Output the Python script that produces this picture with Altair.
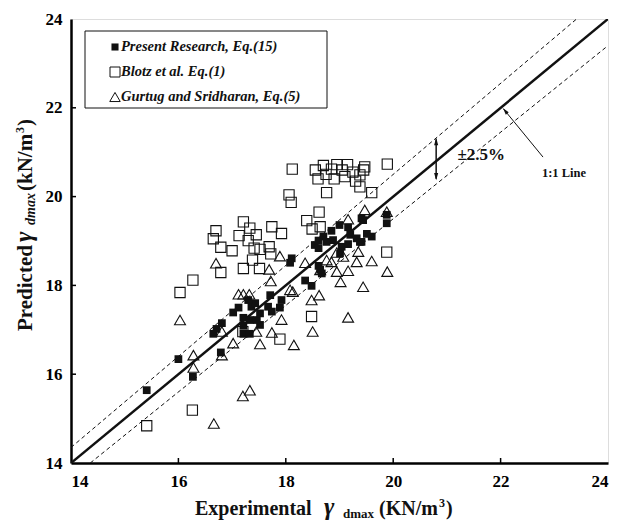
import altair as alt
import pandas as pd

# ---------------- data ----------------
present_x = [15.41, 16.0, 16.27, 16.79, 16.65, 16.71, 16.81, 17.21, 17.33, 17.21, 17.52, 17.21,
             17.33, 17.46, 17.02, 17.12, 17.52, 17.36, 17.43, 17.3, 17.67, 17.74, 17.89, 17.92,
             17.71, 18.36, 18.48, 18.61, 18.64, 18.67, 18.11, 18.08, 18.54, 18.61, 18.61, 18.7,
             18.76, 18.88, 18.85, 19.0, 19.16, 19.04, 19.16, 19.01, 19.2, 19.32, 19.38, 19.41,
             19.51, 19.6, 19.44, 19.88, 19.88, 19.41]
present_y = [15.64, 16.34, 15.94, 16.49, 16.91, 17.02, 17.15, 16.91, 16.91, 17.09, 17.11, 17.27,
             17.22, 17.22, 17.39, 17.5, 17.37, 17.52, 17.6, 17.67, 17.52, 17.41, 17.5, 17.67,
             17.78, 18.11, 17.99, 18.44, 18.35, 18.27, 18.61, 18.51, 18.91, 18.84, 19.01, 19.1,
             18.98, 19.02, 19.23, 19.36, 19.31, 18.87, 18.93, 18.72, 19.14, 19.06, 18.98, 19.51,
             19.16, 19.1, 19.47, 19.59, 19.4, 18.98]

blotz_x = [15.41, 16.26, 16.03, 16.27, 16.79, 17.21, 17.51, 17.38, 17.72, 16.79, 17.0, 17.41,
           17.52, 17.69, 16.65, 17.3, 17.13, 17.45, 16.7, 17.33, 17.21, 17.74, 17.92, 18.39,
           18.49, 18.64, 18.62, 18.06, 18.1, 18.76, 19.6, 18.48, 17.89, 17.2, 19.88, 19.47,
           19.89, 19.38, 19.38, 18.12, 18.55, 18.6, 18.7, 18.75, 18.85, 18.9, 18.95, 19.05,
           19.1, 19.15, 19.25, 19.3, 19.45]
blotz_y = [14.84, 15.19, 17.84, 18.12, 18.29, 18.38, 18.38, 18.57, 18.71, 18.86, 18.78, 18.84,
           18.81, 18.87, 19.05, 19.01, 19.12, 19.14, 19.23, 19.29, 19.43, 19.32, 19.17, 19.46,
           19.27, 19.32, 19.65, 20.04, 19.87, 20.09, 20.09, 17.3, 16.79, 16.96, 18.75, 20.67,
           20.73, 20.49, 20.22, 20.62, 20.6, 20.4, 20.7, 20.5, 20.62, 20.4, 20.72, 20.6,
           20.45, 20.72, 20.55, 20.35, 20.6]

gurtug_x = [16.66, 17.2, 17.33, 16.28, 16.28, 16.81, 17.02, 17.52, 18.15, 16.03, 16.81, 17.45,
            17.74, 18.5, 17.92, 19.16, 17.12, 17.21, 17.32, 18.08, 18.13, 18.48, 18.62, 19.44,
            19.02, 17.72, 16.7, 17.69, 18.64, 18.95, 19.16, 19.89, 18.36, 18.76, 18.85, 19.32,
            19.6, 17.89, 19.07, 18.95, 19.35, 19.16, 19.47, 19.88]
gurtug_y = [14.89, 15.51, 15.64, 16.15, 16.43, 16.43, 16.7, 16.68, 16.66, 17.22, 16.96, 16.96,
            16.94, 16.96, 17.23, 17.28, 17.8, 17.8, 17.8, 17.9, 17.86, 17.67, 17.78, 17.97,
            18.08, 18.1, 18.5, 18.36, 18.35, 18.31, 18.33, 18.31, 18.51, 18.57, 18.53, 18.53,
            18.55, 18.66, 18.65, 18.74, 18.76, 19.49, 19.7, 19.66]

legend_labels = ["Present Research, Eq.(15)", "Blotz et al. Eq.(1)", "Gurtug and Sridharan, Eq.(5)"]
tick_values = [14, 16, 18, 20, 22, 24]
inner_ticks = [16, 18, 20, 22]
band = 0.025  # +/-2.5 % lines

# ---------------- layout ----------------
W, H = 537, 444
FONT = "Liberation Serif"
xsc = alt.Scale(domain=[14, 24], nice=False, zero=False)
ysc = alt.Scale(domain=[14, 24], nice=False, zero=False)

ax_x = alt.Axis(values=tick_values, ticks=False, grid=False, domainColor="black",
                domainWidth=2.5, labelFont=FONT, labelFontWeight="bold",
                labelFontSize=17, labelColor="black", labelPadding=10, title=None)
ax_y = alt.Axis(values=tick_values, ticks=False, grid=False, domainColor="black",
                domainWidth=2.5, labelFont=FONT, labelFontWeight="bold",
                labelFontSize=17, labelColor="black", labelPadding=9, title=None)


def X(f="x"):
    return alt.X(f"{f}:Q", scale=xsc, axis=ax_x, title=None)


def Y(f="y"):
    return alt.Y(f"{f}:Q", scale=ysc, axis=ax_y, title=None)


pres = pd.DataFrame({"x": present_x, "y": present_y})
blo = pd.DataFrame({"x": blotz_x, "y": blotz_y})
gur = pd.DataFrame({"x": gurtug_x, "y": gurtug_y})

tk = pd.DataFrame({"v": inner_ticks})
xticks = alt.Chart(tk).mark_rule(color="black", strokeWidth=1.5).encode(
    x=X("v"), y=alt.value(H), y2=alt.value(H - 5))
yticks = alt.Chart(tk).mark_rule(color="black", strokeWidth=1.5).encode(
    y=Y("v"), x=alt.value(0), x2=alt.value(5))

# reference lines
one = pd.DataFrame({"x": [14, 24], "y": [14, 24]})
up = pd.DataFrame({"x": [14, 24 / (1 + band)], "y": [14 * (1 + band), 24]})
lo = pd.DataFrame({"x": [14 / (1 - band), 24], "y": [14, 24 * (1 - band)]})
line1 = alt.Chart(one).mark_line(color="#111", strokeWidth=2.5, clip=True).encode(x=X(), y=Y())
lineu = alt.Chart(up).mark_line(color="#111", strokeWidth=1, strokeDash=[4, 3], clip=True).encode(x=X(), y=Y())
linel = alt.Chart(lo).mark_line(color="#111", strokeWidth=1, strokeDash=[4, 3], clip=True).encode(x=X(), y=Y())

# points
g_pts = alt.Chart(gur).mark_point(shape="triangle-up", filled=False, size=120, color="#111",
                                  strokeWidth=1.1, opacity=1).encode(x=X(), y=Y())
b_pts = alt.Chart(blo).mark_point(shape="square", filled=False, size=105, color="#111",
                                  strokeWidth=1.1, opacity=1).encode(x=X(), y=Y())
p_pts = alt.Chart(pres).mark_point(shape="square", filled=True, size=60, color="#111",
                                   opacity=1).encode(x=X(), y=Y())

# annotations
HEAD = "M0,-1L0.55,1L-0.55,1Z"
darrow = alt.Chart(pd.DataFrame({"x": [20.8], "y": [20.4], "y2": [21.29]})).mark_rule(
    color="#111", strokeWidth=1.5).encode(x=X(), y=Y(), y2="y2:Q")
dheads = alt.Chart(pd.DataFrame({"x": [20.8, 20.8], "y": [21.24, 20.45], "a": [0, 180]})).mark_point(
    shape=HEAD, filled=True, size=55, color="#111", opacity=1).encode(
    x=X(), y=Y(), angle=alt.Angle("a:Q", scale=None))
pct = alt.Chart(pd.DataFrame({"x": [21.64], "y": [20.94], "t": ["±2.5%"]})).mark_text(
    font=FONT, fontWeight="bold", fontSize=17, color="#111", align="center", baseline="middle").encode(
    x=X(), y=Y(), text="t:N")
larrow = alt.Chart(pd.DataFrame({"x": [22.79], "y": [20.89], "x2": [22.05], "y2": [21.98]})).mark_rule(
    color="#111", strokeWidth=1).encode(x=X(), y=Y(), x2="x2:Q", y2="y2:Q")
lhead = alt.Chart(pd.DataFrame({"x": [22.085], "y": [21.93], "a": [321]})).mark_point(
    shape=HEAD, filled=True, size=45, color="#111", opacity=1).encode(
    x=X(), y=Y(), angle=alt.Angle("a:Q", scale=None))
ltxt = alt.Chart(pd.DataFrame({"x": [23.18], "y": [20.53], "t": ["1:1 Line"]})).mark_text(
    font=FONT, fontWeight="bold", fontSize=12.5, color="#111", align="center", baseline="middle").encode(
    x=X(), y=Y(), text="t:N")

# legend (box + symbols + labels), placed in pixels
one_row = pd.DataFrame({"a": [0]})
leg_box = alt.Chart(one_row).mark_rect(fill="white", stroke="#111", strokeWidth=1).encode(
    x=alt.value(14), x2=alt.value(256), y=alt.value(12), y2=alt.value(89))
leg_rows = [28, 53, 78]
leg_sym = [
    dict(shape="square", filled=True, size=50),
    dict(shape="square", filled=False, size=100, strokeWidth=1),
    dict(shape="triangle-up", filled=False, size=110, strokeWidth=1),
]
legend_layers = [leg_box]
for lab, py, sym in zip(legend_labels, leg_rows, leg_sym):
    legend_layers.append(alt.Chart(one_row).mark_point(color="#111", opacity=1, **sym).encode(
        x=alt.value(44), y=alt.value(py)))
    legend_layers.append(alt.Chart(one_row).mark_text(
        text=lab, font=FONT, fontWeight="bold", fontStyle="italic", fontSize=14.5,
        color="#111", align="left", baseline="middle").encode(x=alt.value(50), y=alt.value(py)))


def piece(text, x, y, size, style="normal", angle=0):
    return alt.Chart(one_row).mark_text(
        text=text, font=FONT, fontWeight="bold", fontStyle=style, fontSize=size, color="#111",
        align="left", baseline="alphabetic", angle=angle).encode(x=alt.value(x), y=alt.value(y))


# x axis title: Experimental γdmax (KN/m3)
XB = 496
xtitle = [
    piece("Experimental", 124, XB, 20),
    piece("γ", 253, XB, 25, "italic"),
    piece("dmax", 272, XB + 3, 13),
    piece("(KN/m", 308, XB, 20),
    piece("3", 368, XB - 8, 12),
    piece(")", 375, XB, 20),
]
# y axis title: Predicted γdmax (kN/m3)  (rotated)
YB = -39
ytitle = [
    piece("Predicted", YB, 312, 21, angle=270),
    piece("γ", YB, 223, 25, "italic", angle=270),
    piece("dmax", YB + 3, 206, 14, "italic", angle=270),
    piece("(kN/m", YB, 172, 21, angle=270),
    piece("3", YB - 8, 114, 12, angle=270),
    piece(")", YB, 107, 21, angle=270),
]

chart = alt.layer(
    xticks, yticks, lineu, linel, line1,
    g_pts, b_pts, p_pts,
    darrow, dheads, pct, larrow, lhead, ltxt,
    *legend_layers,
    *xtitle, *ytitle,
).properties(
    width=W, height=H,
    autosize=alt.AutoSizeParams(type="none"),
    padding={"left": 63, "top": 11, "right": 2, "bottom": 59},
).configure_view(stroke="#777", strokeWidth=1).configure(background="white")

chart.save("out.html", embed_options={"renderer": "svg", "actions": False})
